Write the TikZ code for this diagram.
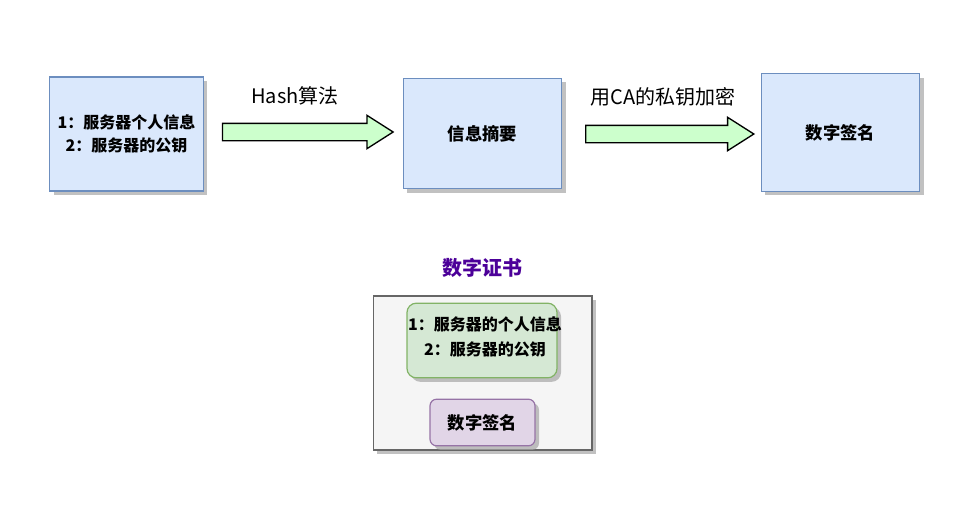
\documentclass[tikz,border=0pt]{standalone}
\usepackage{fontspec}
\setmainfont{Noto Sans CJK SC}
\usetikzlibrary{positioning,shapes.arrows,shadows}

\definecolor{infofill}{HTML}{DAE8FC}
\definecolor{infodraw}{HTML}{6C8EBF}
\definecolor{arrowfill}{HTML}{CCFFCC}
\definecolor{certfill}{HTML}{F5F5F5}
\definecolor{certdraw}{HTML}{666666}
\definecolor{greenfill}{HTML}{D5E8D4}
\definecolor{greendraw}{HTML}{82B366}
\definecolor{purplefill}{HTML}{E1D5E7}
\definecolor{purpledraw}{HTML}{9673A6}
\definecolor{titlecolor}{HTML}{4C0099}

\tikzset{
  shade/.style={drop shadow={shadow xshift=3pt, shadow yshift=-3pt, fill=black!35, opacity=0.7}},
  infobox/.style={draw=infodraw, fill=infofill, line width=0.9pt, shade, align=center,
    font=\bfseries\fontsize{13}{18.75}\selectfont},
  twolines/.style={font=\bfseries\fontsize{12}{18.75}\selectfont},
  fatarrow/.style={single arrow, draw=black, fill=arrowfill, line width=1pt,
    inner xsep=0pt, inner ysep=6pt, minimum width=24pt,
    single arrow head extend=6pt, single arrow tip angle=65},
  steplabel/.style={font=\fontsize{15}{18}\selectfont},
}

\begin{document}
\begin{tikzpicture}[x=0.75pt, y=-0.75pt]
  \useasboundingbox (0,0) rectangle (979,512);

  % Nodes
  \node[infobox, twolines, minimum width=115pt, minimum height=85.5pt] (server) at (126.5,134)
    {\raisebox{-9pt}{\shortstack{1：服务器个人信息\\[3pt]2：服务器的公钥}}};
  \node[infobox, minimum width=119pt, minimum height=83pt] (digest) at (482.5,133.5) {信息摘要};
  \node[infobox, minimum width=119pt, minimum height=88pt] (sign) at (840.5,132.5) {数字签名};

  % Arrows
  \node[fatarrow, minimum height=128pt] (hash) at (301,132) {};
  \node[fatarrow, minimum height=126pt] (encrypt) at (663,134) {};
  \node[steplabel] (hashlbl) at (295,96) {Hash算法};
  \node[steplabel] (encryptlbl) at (663,97) {用CA的私钥加密};

  % Certificate
  \node[font=\bfseries\fontsize{15}{18}\selectfont, text=titlecolor] (certtitle) at (482,268) {数字证书};
  \node[draw=certdraw, fill=certfill, line width=1pt, shade, minimum width=164pt, minimum height=115.5pt] (cert) at (482.5,373) {};
  \node[draw=greendraw, fill=greenfill, line width=0.9pt, rounded corners=7pt, shade,
    minimum width=112.5pt, minimum height=56pt] (certinfo) at (482,340.5) {};
  \node[twolines, align=center] (certtext) at (485,337)
    {1：服务器的个人信息\\2：服务器的公钥};
  \node[draw=purpledraw, fill=purplefill, line width=0.9pt, rounded corners=5pt, shade,
    minimum width=78.75pt, minimum height=35pt, font=\bfseries\fontsize{13}{18}\selectfont] (certsign) at (482.5,422.5) {数字签名};
\end{tikzpicture}
\end{document}
